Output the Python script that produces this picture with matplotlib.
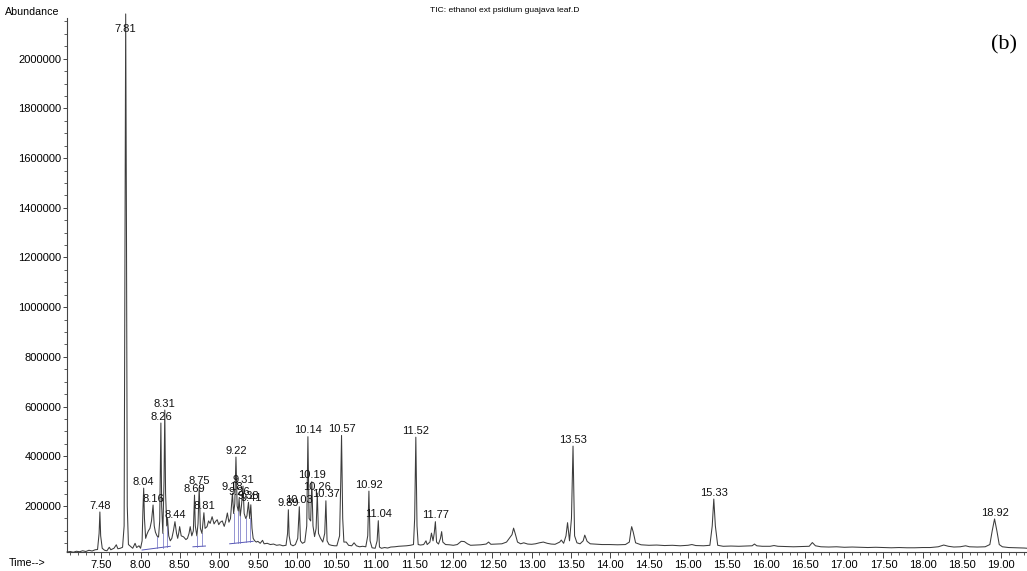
import numpy as np
import matplotlib
matplotlib.use("Agg")
import matplotlib.pyplot as plt
from matplotlib.ticker import MultipleLocator, FixedLocator, FuncFormatter

# TIC trace: retention time (min), abundance (x1000)
rt = [7.06, 7.10, 7.14, 7.18, 7.22, 7.26, 7.30, 7.34, 7.38, 7.42, 7.45, 7.47, 7.48, 7.49, 7.51,
      7.54, 7.57, 7.60, 7.62, 7.66, 7.69, 7.71, 7.74, 7.77, 7.79, 7.80, 7.81, 7.82, 7.83, 7.845,
      7.87, 7.90, 7.93, 7.95, 7.98, 8.00, 8.02, 8.03, 8.04, 8.05, 8.065, 8.08, 8.10, 8.12, 8.14,
      8.16, 8.175, 8.19, 8.21, 8.23, 8.245, 8.26, 8.27, 8.285, 8.30, 8.31, 8.32, 8.335, 8.345, 8.36,
      8.38, 8.40, 8.42, 8.44, 8.46, 8.475, 8.49, 8.50, 8.52, 8.55, 8.58, 8.60, 8.62, 8.635, 8.655,
      8.675, 8.69, 8.70, 8.72, 8.735, 8.75, 8.765, 8.785, 8.80, 8.81, 8.825, 8.85, 8.87, 8.89, 8.915,
      8.94, 8.96, 8.98, 9.00, 9.02, 9.045, 9.07, 9.09, 9.11, 9.13, 9.15, 9.175, 9.19, 9.205, 9.22,
      9.235, 9.25, 9.26, 9.275, 9.29, 9.31, 9.325, 9.345, 9.36, 9.38, 9.395, 9.41, 9.425, 9.44, 9.46,
      9.48, 9.50, 9.53, 9.56, 9.58, 9.62, 9.66, 9.70, 9.74, 9.78, 9.82, 9.86, 9.88, 9.89, 9.90,
      9.92, 9.95, 9.98, 10.01, 10.03, 10.045, 10.07, 10.10, 10.125, 10.14, 10.155, 10.175, 10.19, 10.205, 10.225,
      10.245, 10.26, 10.275, 10.30, 10.33, 10.355, 10.37, 10.385, 10.41, 10.44, 10.48, 10.51, 10.545, 10.56, 10.57,
      10.585, 10.60, 10.63, 10.66, 10.70, 10.73, 10.76, 10.80, 10.84, 10.88, 10.905, 10.92, 10.935, 10.96, 11.00,
      11.025, 11.04, 11.055, 11.08, 11.12, 11.16, 11.20, 11.25, 11.30, 11.35, 11.40, 11.45, 11.49, 11.505, 11.52,
      11.535, 11.55, 11.58, 11.62, 11.65, 11.665, 11.70, 11.72, 11.74, 11.755, 11.77, 11.785, 11.81, 11.835, 11.85,
      11.865, 11.90, 11.95, 12.00, 12.05, 12.10, 12.14, 12.18, 12.22, 12.28, 12.35, 12.42, 12.45, 12.48, 12.55,
      12.62, 12.68, 12.72, 12.75, 12.77, 12.79, 12.82, 12.86, 12.90, 12.95, 13.00, 13.05, 13.10, 13.15, 13.20,
      13.25, 13.30, 13.36, 13.38, 13.41, 13.44, 13.46, 13.485, 13.51, 13.53, 13.55, 13.58, 13.62, 13.66, 13.68,
      13.71, 13.75, 13.80, 13.90, 14.00, 14.10, 14.20, 14.25, 14.27, 14.28, 14.30, 14.33, 14.40, 14.50, 14.60,
      14.70, 14.80, 14.90, 15.00, 15.05, 15.10, 15.20, 15.28, 15.31, 15.33, 15.35, 15.38, 15.45, 15.55, 15.65,
      15.75, 15.82, 15.85, 15.88, 15.95, 16.05, 16.10, 16.15, 16.25, 16.35, 16.45, 16.55, 16.59, 16.63, 16.70,
      16.80, 16.90, 17.00, 17.10, 17.20, 17.30, 17.40, 17.50, 17.60, 17.70, 17.80, 17.90, 18.00, 18.10, 18.20,
      18.27, 18.33, 18.40, 18.48, 18.55, 18.60, 18.70, 18.80, 18.86, 18.89, 18.92, 18.95, 18.98, 19.02, 19.10,
      19.20, 19.30, 19.34]
abund_k = [15, 17, 14, 18, 16, 20, 17, 22, 19, 24, 25, 90, 176, 80, 30,
           22, 20, 34, 24, 30, 44, 28, 30, 34, 120, 1200, 2180, 1300, 200, 45,
           38, 30, 50, 33, 40, 30, 60, 180, 272, 150, 70, 85, 100, 110, 140,
           204, 120, 95, 80, 75, 140, 534, 200, 90, 300, 586, 250, 120, 150, 80,
           60, 70, 100, 137, 90, 70, 95, 117, 80, 76, 65, 70, 90, 117, 80,
           100, 244, 120, 80, 130, 276, 110, 90, 140, 173, 110, 117, 140, 130, 157,
           128, 138, 145, 125, 135, 140, 118, 140, 172, 135, 150, 252, 170, 210, 397,
           200, 180, 230, 160, 200, 280, 170, 150, 160, 215, 150, 205, 110, 70, 60,
           55, 58, 50, 62, 48, 50, 45, 47, 42, 44, 40, 42, 90, 185, 80,
           45, 40, 45, 70, 197, 60, 50, 55, 120, 479, 150, 140, 298, 120, 77,
           110, 252, 90, 71, 55, 90, 221, 60, 45, 42, 40, 40, 80, 300, 484,
           150, 55, 55, 42, 40, 52, 40, 36, 38, 36, 80, 260, 60, 32, 30,
           60, 141, 35, 30, 33, 31, 35, 36, 38, 39, 40, 42, 45, 150, 477,
           120, 45, 43, 45, 60, 45, 55, 91, 60, 90, 137, 55, 47, 70, 97,
           55, 45, 44, 42, 45, 58, 57, 48, 42, 43, 44, 47, 55, 46, 47,
           48, 55, 72, 85, 111, 90, 55, 48, 52, 47, 46, 48, 52, 55, 50,
           47, 46, 55, 63, 50, 80, 133, 60, 150, 441, 80, 52, 48, 60, 83,
           58, 48, 47, 45, 45, 44, 45, 55, 100, 117, 95, 52, 44, 42, 43,
           41, 42, 40, 42, 45, 41, 40, 42, 120, 228, 120, 42, 38, 39, 38,
           39, 40, 47, 40, 38, 38, 41, 38, 37, 36, 37, 38, 53, 40, 36,
           35, 36, 34, 35, 34, 33, 34, 33, 32, 33, 32, 32, 33, 33, 36,
           43, 38, 35, 36, 40, 36, 35, 36, 45, 100, 148, 100, 45, 36, 33,
           32, 31, 30]

# labelled peaks: retention time text, position and label height (x1000)
peak_txt = ["7.48", "7.81", "8.04", "8.16", "8.26", "8.31", "8.44", "8.69", "8.75", "8.81",
            "9.18", "9.22", "9.26", "9.31", "9.38", "9.41", "9.89", "10.03", "10.14", "10.19",
            "10.26", "10.37", "10.57", "10.92", "11.04", "11.52", "11.77", "13.53", "15.33", "18.92"]
peak_rt = [7.48, 7.81, 8.04, 8.16, 8.26, 8.31, 8.44, 8.69, 8.75, 8.81,
           9.175, 9.22, 9.26, 9.31, 9.38, 9.41, 9.89, 10.03, 10.14, 10.19,
           10.26, 10.37, 10.57, 10.92, 11.04, 11.52, 11.77, 13.53, 15.33, 18.92]
peak_lab_k = [176, 2095, 272, 204, 534, 586, 137, 244, 276, 173,
              252, 397, 230, 280, 215, 205, 185, 197, 479, 298,
              252, 221, 484, 260, 141, 477, 137, 441, 228, 148]

# integration baselines (blue): start rt, start abund, end rt, end abund (x1000)
base_t0 = [8.02, 8.67, 9.14]
base_a0 = [23, 36, 48]
base_t1 = [8.38, 8.83, 9.44]
base_a1 = [38, 39, 58]
# drop lines (blue): rt, bottom, top (x1000)
drop_t = [8.21, 8.285, 8.335, 8.72, 8.785, 9.19, 9.25, 9.275, 9.345, 9.395]
drop_lo = [31, 33, 36, 37, 38, 50, 52, 53, 55, 57]
drop_hi = [80, 90, 120, 80, 90, 170, 180, 160, 150, 150]

plt.rcParams['font.family'] = ['Liberation Sans', 'DejaVu Sans']

fig = plt.figure(figsize=(10.27, 5.71), dpi=100)
ax = fig.add_axes([0.0652, 0.0324, 0.9348, 0.9361])

y = np.array(abund_k) * 1000
ax.plot(rt, y, color='#3c3c3c', lw=0.75, clip_on=False, zorder=3)

for t0, a0, t1, a1 in zip(base_t0, base_a0, base_t1, base_a1):
    ax.plot([t0, t1], [a0 * 1000, a1 * 1000], color='#5555b5', lw=0.7, zorder=2)
for t, lo, hi in zip(drop_t, drop_lo, drop_hi):
    ax.plot([t, t], [lo * 1000, hi * 1000], color='#6a6ac0', lw=0.5, zorder=2)

for s, t, h in zip(peak_txt, peak_rt, peak_lab_k):
    ax.annotate(s, (t, h * 1000), xytext=(0, 1), textcoords='offset points',
                ha='center', va='bottom', fontsize=8, color='#111111', zorder=4)

ax.set_xlim(7.059, 19.335)
ax.set_ylim(13000, 2163700)

ax.spines['top'].set_visible(False)
ax.spines['right'].set_visible(False)
for sp in ['left', 'bottom']:
    ax.spines[sp].set_linewidth(0.8)
    ax.spines[sp].set_color('#444444')

ax.xaxis.set_major_locator(MultipleLocator(0.5))
ax.xaxis.set_minor_locator(MultipleLocator(0.1))
ax.xaxis.set_major_formatter(FuncFormatter(lambda v, p: "%.2f" % v))
ax.yaxis.set_major_locator(FixedLocator(np.arange(200000, 2000001, 200000)))
ax.yaxis.set_minor_locator(MultipleLocator(50000))
ax.yaxis.set_major_formatter(FuncFormatter(lambda v, p: "%d" % v))
ax.tick_params(axis='x', which='major', length=4, width=0.7, color='#444444',
               labelsize=8, pad=1.5)
ax.tick_params(axis='y', which='major', length=3, width=0.7, color='#444444',
               labelsize=8, pad=1)
ax.tick_params(axis='both', which='minor', length=2, width=0.6, color='#444444')

fig.text(0.005, 0.979, "Abundance", fontsize=7.7, va='center', ha='left')
fig.text(0.009, 0.014, "Time-->", fontsize=7.7, va='center', ha='left')
fig.text(0.491, 0.982, "TIC: ethanol ext psidium guajava leaf.D", fontsize=6.1,
         va='center', ha='center')
fig.text(0.978, 0.921, "(b)", fontsize=16, va='center', ha='center',
         family=['Liberation Serif', 'DejaVu Serif'])

fig.savefig("out.png", dpi=100)
